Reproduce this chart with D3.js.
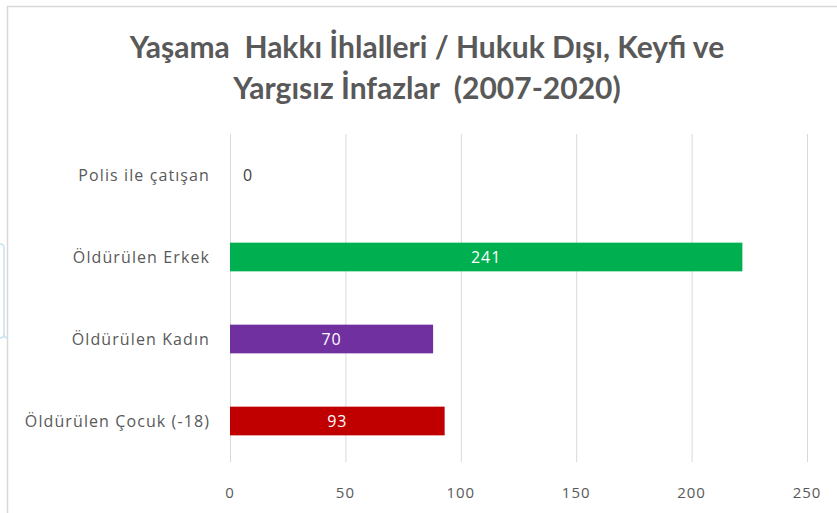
<!DOCTYPE html>
<html>
<head>
<meta charset="utf-8">
<script src="https://cdn.jsdelivr.net/npm/d3@7"></script>
<style>
  body { margin: 0; background: #fff; }
  svg { display: block; font-family: "Open Sans", "Noto Sans", sans-serif; }
</style>
</head>
<body>
<div id="chart"></div>
<script>
// categories top to bottom
const categories = ["Polis ile çatışan", "Öldürülen Erkek", "Öldürülen Kadın", "Öldürülen Çocuk (-18)"];
// bar lengths as drawn in the picture
const barValues = [0, 222, 88, 93];
// data labels printed on the bars
const labels = ["0", "241", "70", "93"];
const colors = ["#4472c4", "#00b050", "#7030a0", "#c00000"];
const ticks = [0, 50, 100, 150, 200, 250];
const titleLines = ["Yaşama  Hakkı İhlalleri / Hukuk Dışı, Keyfi ve", "Yargısız İnfazlar  (2007-2020)"];

const width = 837, height = 513;
const margin = { top: 134, right: 30, bottom: 51, left: 230 };

const svg = d3.select("#chart")
  .append("svg")
  .attr("width", width)
  .attr("height", height);

// chart frame (only top and left edges visible)
svg.append("path")
  .attr("d", "M7.5,513 V6.5 H837")
  .attr("fill", "none")
  .attr("stroke", "#d9d9d9")
  .attr("stroke-width", 1.5);

// light blue selection bracket on the far left
svg.append("path")
  .attr("d", "M0,244 Q4,244 4,248 V334 Q4,338 8,338 M4,334 Q4,338 0,338")
  .attr("fill", "none")
  .attr("stroke", "#c6e2f2")
  .attr("stroke-width", 1.5);

const x = d3.scaleLinear()
  .domain([0, 250])
  .range([margin.left, 807]);

const y = d3.scaleBand()
  .domain(categories)
  .range([margin.top, height - margin.bottom])
  .paddingInner(0.65)
  .paddingOuter(0.325);

// gridlines
svg.append("g")
  .selectAll("line")
  .data(ticks)
  .join("line")
  .attr("x1", d => x(d) + 0.5)
  .attr("x2", d => x(d) + 0.5)
  .attr("y1", margin.top)
  .attr("y2", height - margin.bottom)
  .attr("stroke", "#d9d9d9")
  .attr("stroke-width", 1);

// tick labels
svg.append("g")
  .selectAll("text")
  .data(ticks)
  .join("text")
  .attr("x", d => x(d))
  .attr("y", 498)
  .attr("text-anchor", "middle")
  .attr("fill", "#595959")
  .style("font-size", "15px")
  .style("letter-spacing", "1px")
  .text(d => d);

// bars
svg.append("g")
  .selectAll("rect")
  .data(categories)
  .join("rect")
  .attr("x", x(0))
  .attr("y", d => y(d))
  .attr("width", (d, i) => x(barValues[i]) - x(0))
  .attr("height", y.bandwidth())
  .attr("fill", (d, i) => colors[i]);

// category labels
svg.append("g")
  .selectAll("text")
  .data(categories)
  .join("text")
  .attr("x", 210)
  .attr("y", d => y(d) + y.bandwidth() / 2)
  .attr("dy", "0.35em")
  .attr("text-anchor", "end")
  .attr("fill", "#595959")
  .style("font-size", "16px")
  .style("letter-spacing", "1.1px")
  .text(d => d);

// data labels: centred in the bar, or just past the axis if the bar is empty
svg.append("g")
  .selectAll("text")
  .data(categories)
  .join("text")
  .attr("x", (d, i) => barValues[i] > 0 ? (x(0) + x(barValues[i])) / 2 : x(0) + 18)
  .attr("y", d => y(d) + y.bandwidth() / 2)
  .attr("dy", "0.35em")
  .attr("text-anchor", "middle")
  .attr("fill", (d, i) => barValues[i] > 0 ? "#ffffff" : "#404040")
  .style("font-size", "16px")
  .style("letter-spacing", "1px")
  .text((d, i) => labels[i]);

// title
svg.append("g")
  .selectAll("text")
  .data(titleLines)
  .join("text")
  .attr("x", 427)
  .attr("y", (d, i) => 58 + i * 41)
  .attr("text-anchor", "middle")
  .attr("fill", "#595959")
  .style("font-family", "Lato, sans-serif")
  .style("font-weight", 700)
  .style("font-size", "30px")
  .style("white-space", "pre")
  .text(d => d);
</script>
</body>
</html>
